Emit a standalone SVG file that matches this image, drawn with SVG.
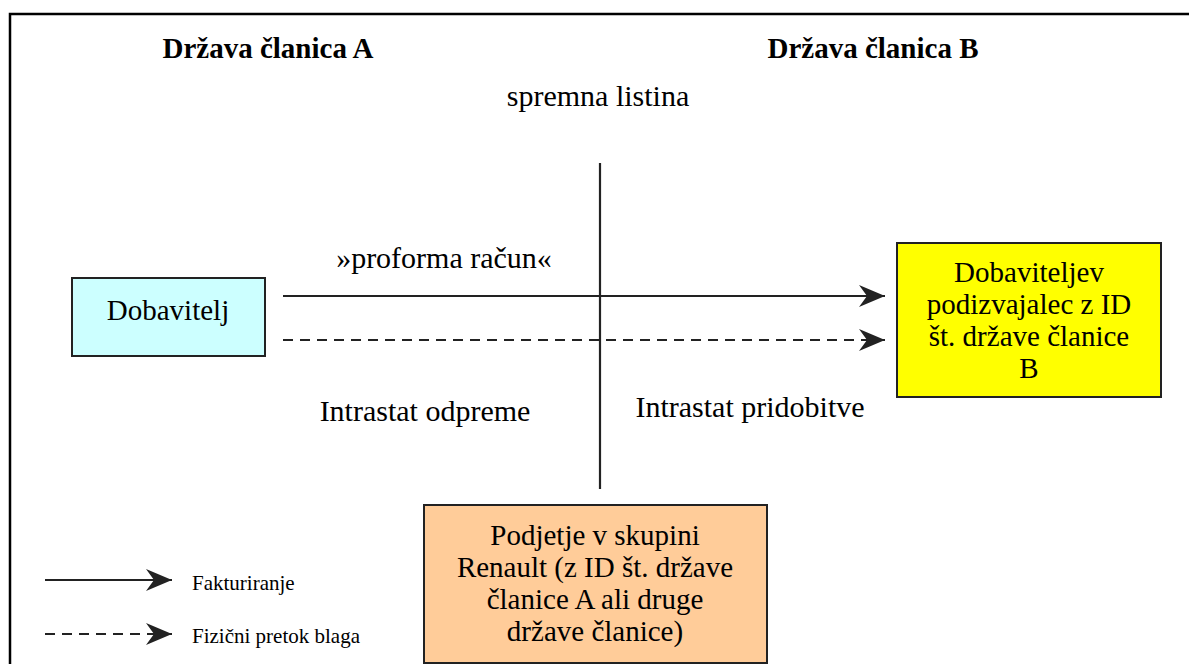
<svg xmlns="http://www.w3.org/2000/svg" width="1189" height="664" viewBox="0 0 1189 664">
<style>
text{font-family:"Liberation Serif","Times New Roman",serif;fill:#000}
.h{font-size:29px;font-weight:bold}
.t{font-size:30px}
.b{font-size:29px}
.l{font-size:21px}
.box{stroke:#222;stroke-width:2}
.c{stroke:#222;stroke-width:2.2;fill:none}
.d{stroke-dasharray:10,7}
</style>
<defs>
<marker id="ah" viewBox="0 0 26 22" refX="26" refY="11" markerWidth="26" markerHeight="22" markerUnits="userSpaceOnUse" orient="auto">
<path d="M0,0 L26,11 L0,22 L8,11 Z" fill="#222"/>
</marker>
</defs>
<rect width="1189" height="664" fill="#fff"/>
<path d="M10,680 V14 H1200" fill="none" stroke="#000" stroke-width="2.5"/>
<text class="h" x="268" y="58" text-anchor="middle">Država članica A</text>
<text class="h" x="873" y="58" text-anchor="middle">Država članica B</text>
<text class="t" x="598" y="106" text-anchor="middle">spremna listina</text>
<text class="t" x="444" y="268" text-anchor="middle">»proforma račun«</text>
<text class="t" x="425" y="421" text-anchor="middle">Intrastat odpreme</text>
<text class="t" x="750" y="417" text-anchor="middle">Intrastat pridobitve</text>
<g id="connectors">
<line class="c" x1="600" y1="163" x2="600" y2="489"/>
<line class="c" x1="283" y1="296" x2="885" y2="296" marker-end="url(#ah)"/>
<line class="c d" x1="283" y1="340" x2="885" y2="340" marker-end="url(#ah)"/>
<line class="c" x1="45" y1="580" x2="172" y2="580" marker-end="url(#ah)"/>
<line class="c d" x1="45" y1="634" x2="172" y2="634" marker-end="url(#ah)"/>
</g>
<g id="legend">
<text class="l" x="192" y="590">Fakturiranje</text>
<text class="l" x="192" y="643">Fizični pretok blaga</text>
</g>
<g id="dobavitelj">
<rect class="box" x="72" y="278" width="193" height="78" fill="#ccffff"/>
<text class="b" x="168" y="320" text-anchor="middle">Dobavitelj</text>
</g>
<g id="podizvajalec">
<rect class="box" x="897" y="243" width="264" height="154" fill="#ffff00"/>
<text class="b" text-anchor="middle"><tspan x="1029" y="282">Dobaviteljev</tspan><tspan x="1029" y="314">podizvajalec z ID</tspan><tspan x="1029" y="346">št. države članice</tspan><tspan x="1029" y="378">B</tspan></text>
</g>
<g id="renault">
<rect class="box" x="424" y="505" width="343" height="158" fill="#ffcc99"/>
<text class="b" text-anchor="middle"><tspan x="595" y="545">Podjetje v skupini</tspan><tspan x="595" y="577">Renault (z ID št. države</tspan><tspan x="595" y="609">članice A ali druge</tspan><tspan x="595" y="641">države članice)</tspan></text>
</g>
</svg>
